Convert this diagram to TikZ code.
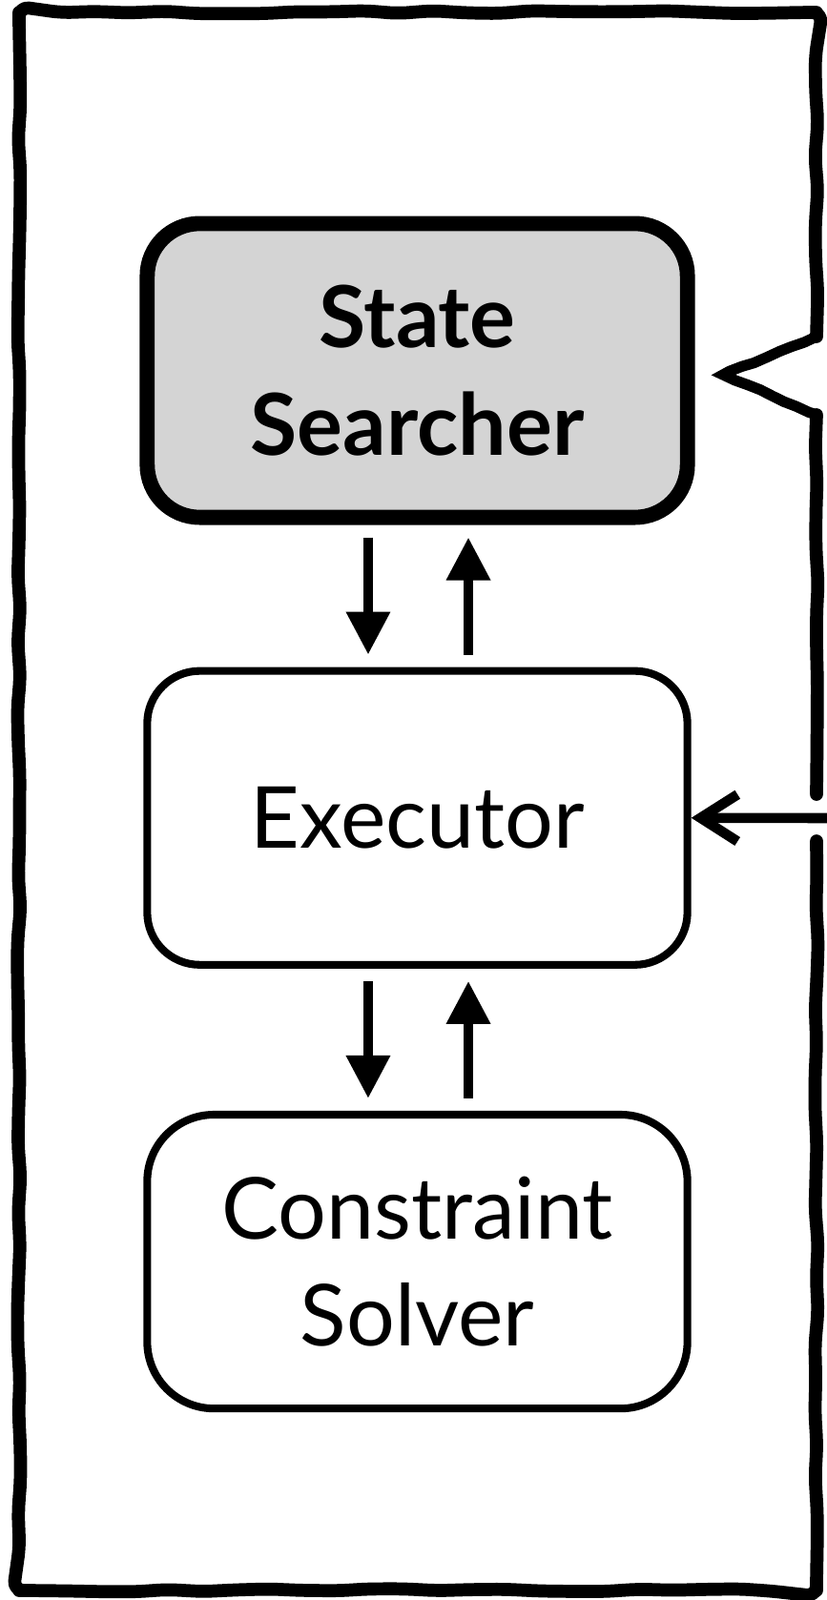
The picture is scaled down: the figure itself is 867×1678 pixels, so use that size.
\documentclass[tikz,border=0pt]{standalone}
\usepackage{fontspec}
\setmainfont{Lato}
\usepackage{tikz}
\usetikzlibrary{arrows.meta}
\usetikzlibrary{positioning}
\usetikzlibrary{decorations.pathmorphing}
\definecolor{searchgray}{RGB}{212,212,212}

\begin{document}
\begin{tikzpicture}
        [x=0.01cm,y=-0.01cm,
        module/.style={rectangle,rounded corners=0.55cm,draw=black,line width=2.3pt,minimum width=5.66cm,minimum height=3.08cm,align=center,font=\fontsize{25.5}{32}\selectfont},
        focus/.style={module,fill=searchgray,line width=4.5pt,font=\fontsize{25.5}{32}\selectfont\bfseries},
        on/.style={-{Triangle[length=12.8pt,width=12.5pt]},line width=2.85pt,shorten <=0.13cm,shorten >=0.13cm},
        from/.style={-{Straight Barb[length=11pt,width=14pt]},line width=3pt},
        sketch/.style={line width=3.9pt,line join=round,line cap=round,rounded corners=3pt,decorate,decoration={random steps,segment length=10pt,amplitude=0.5pt}},
        notch/.style={line width=3.2pt,line join=miter,decorate,decoration={random steps,segment length=4pt,amplitude=0.25pt}}]

\useasboundingbox (0,0) rectangle (867,1678);

% Modules %
\node[focus] (searcher) at (437.5,388.5) {State\\Searcher};
\node[module] (exec) [below=1.49cm of searcher] {Executor};
\node[module,rounded corners=0.7cm] (solver) [below=1.49cm of exec] {Constraint\\Solver};

% Frame %
\coordinate (in) at (867,858);
\draw[sketch] (856,882) -- (856,1668) -- (20,1668) -- (20,13) -- (856,13) -- (856,353);
\draw[notch] (856,353) -- (758,393) -- (856,435);
\draw[sketch] (856,435) -- (856,833);

% Pfeile %
\draw[on] ([xshift=-0.515cm]searcher.south) -- ([xshift=-0.515cm]exec.north);
\draw[on] ([xshift=0.535cm]exec.north) -- ([xshift=0.535cm]searcher.south);
\draw[on] ([xshift=-0.515cm]exec.south) -- ([xshift=-0.515cm]solver.north);
\draw[on] ([xshift=0.535cm]solver.north) -- ([xshift=0.535cm]exec.south);
\draw[from] (in) -- (exec.east);
\end{tikzpicture}
\end{document}
